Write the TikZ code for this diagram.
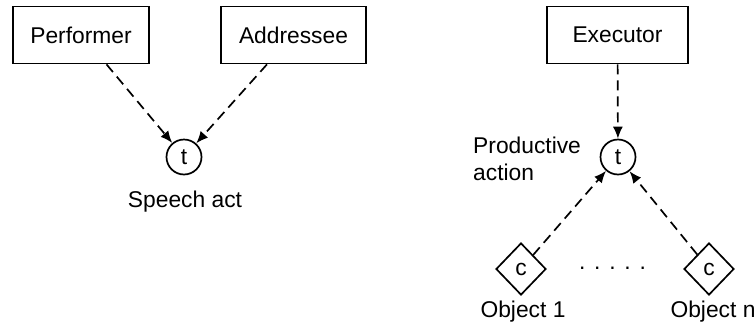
\documentclass[tikz,border=0pt]{standalone}
\usepackage{fontspec}
\setmainfont{Liberation Sans}
\usetikzlibrary{arrows.meta,shapes.geometric}
\newcommand{\onedot}{\hbox to 15.1pt{\hss.\hss}}
\begin{document}
\begin{tikzpicture}[x=1pt,y=-1pt,
  every node/.style={font=\fontsize{22.8}{27}\selectfont},
  agent/.style={draw,line width=1.7pt,minimum width=#1,minimum height=57pt,inner sep=0pt},
  trans/.style={draw,circle,line width=1.7pt,minimum size=35pt,inner sep=0pt},
  fact/.style={draw,diamond,aspect=1,line width=1.7pt,minimum width=50pt,minimum height=52pt,inner sep=0pt},
  dep/.style={line width=1.7pt,dash pattern=on 10pt off 6pt,-{Latex[length=12pt,width=10pt]}}]
\useasboundingbox (0,0) rectangle (754,327);
\node[agent=136pt] (perf) at (81,35) {Performer};
\node[agent=145pt] (addr) at (293.5,35) {Addressee};
\node[agent=141pt] (exec) at (617.5,35) {Executor};
\node[trans] (t1) at (184,157) {t};
\node[trans] (t2) at (618,157) {t};
\node[fact] (c1) at (521,269) {c};
\node[fact] (c2) at (709,269) {c};
\node (sa) at (185,202) {Speech act};
\node[anchor=west,align=left,inner sep=0pt] (pa) at (473,159) {Productive\\action};
\node (o1) at (523,312) {Object 1};
\node (on) at (713,312) {Object n};
\node[inner sep=0pt] (dots) at (612.5,268) {\onedot\onedot\onedot\onedot\onedot};
\draw[dep] ([xshift=25.5pt]perf.south) -- (t1);
\draw[dep] ([xshift=-26.5pt]addr.south) -- (t1);
\draw[dep] (exec) -- (t2);
\draw[dep] (c1) -- (t2);
\draw[dep] (c2) -- (t2);
\end{tikzpicture}
\end{document}
